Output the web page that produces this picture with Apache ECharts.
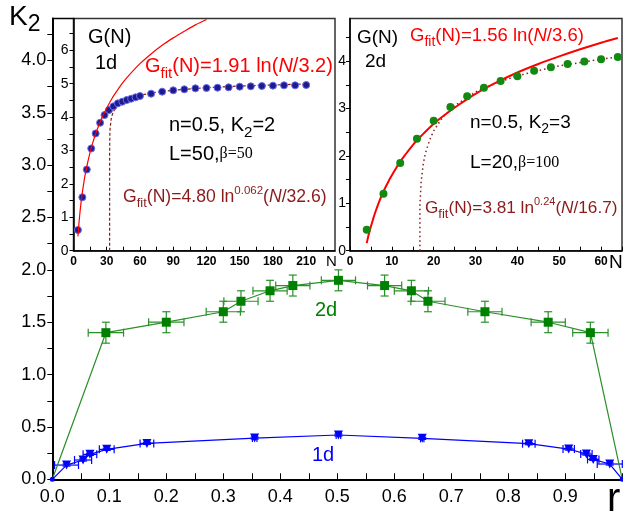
<!DOCTYPE html>
<html>
<head>
<meta charset="utf-8">
<script src="https://cdn.jsdelivr.net/npm/echarts@6/dist/echarts.min.js"></script>
<style>
  html, body { margin: 0; padding: 0; background: #fff; }
  #chart { width: 623px; height: 521px; }
</style>
</head>
<body>
<div id="chart"></div>
<script>
// ---- main panel: K2 vs r ----
const r2d    = [0, 0.094, 0.2, 0.3, 0.331, 0.382, 0.422, 0.502, 0.583, 0.63, 0.659, 0.759, 0.87, 0.944, 1.0];
const k2d    = [0, 1.4, 1.5, 1.6, 1.7, 1.8, 1.85, 1.9, 1.85, 1.8, 1.7, 1.6, 1.5, 1.4, 0];
const rErr2d = [0, 0.031, 0.031, 0.03, 0.03, 0.03, 0.03, 0.03, 0.03, 0.03, 0.03, 0.03, 0.03, 0.031, 0];
const kErr2d = [0, 0.1, 0.1, 0.1, 0.1, 0.1, 0.1, 0.1, 0.1, 0.1, 0.1, 0.1, 0.1, 0.1, 0];

const r1d    = [0, 0.025, 0.054, 0.066, 0.0955, 0.166, 0.355, 0.502, 0.649, 0.836, 0.906, 0.937, 0.949, 0.978, 1.0];
const k1d    = [0, 0.136, 0.184, 0.238, 0.286, 0.343, 0.394, 0.423, 0.391, 0.34, 0.289, 0.241, 0.19, 0.146, 0];
const rErr1d = [0, 0.021, 0.015, 0.012, 0.013, 0.012, 0.004, 0.004, 0.003, 0.011, 0.01, 0.01, 0.01, 0.022, 0];
const kErr1d = [0, 0.01, 0.01, 0.01, 0.01, 0.01, 0.01, 0.01, 0.01, 0.01, 0.01, 0.01, 0.01, 0.01, 0];

// ---- inset 1d: G(N) ----
const n1d = [4, 8, 12, 16, 20, 24, 28, 32, 36, 40, 44, 48, 52, 56, 60,
             70, 80, 90, 100, 110, 120, 130, 140, 150, 160, 170, 180, 190, 200, 210];
const g1d = [0.62, 1.6, 2.43, 3.06, 3.51, 3.83, 4.06, 4.21, 4.32, 4.41, 4.46, 4.51, 4.55, 4.59, 4.63,
             4.70, 4.76, 4.80, 4.83, 4.86, 4.87, 4.88, 4.89, 4.91, 4.92, 4.93, 4.94, 4.95, 4.95, 4.96];
// red fit curve
const fitLn1dN = [4, 4.5, 5, 5.5, 6, 7, 8, 9, 10, 11, 12, 13, 14, 15, 17, 20, 23, 26, 30, 35, 40, 45, 50, 60, 70, 80, 90, 100, 110, 120];
const fitLn1dG = [0.43, 0.65, 0.85, 1.03, 1.20, 1.50, 1.75, 1.97, 2.18, 2.36, 2.52, 2.67, 2.81, 2.95, 3.19, 3.50, 3.77, 4.00, 4.27, 4.57, 4.82, 5.05, 5.25, 5.60, 5.89, 6.15, 6.37, 6.57, 6.76, 6.92];
// dark red dashed fit
const fitPow1dN = [32.6, 32.6, 32.8, 33, 34, 35, 36, 38, 40, 42, 45, 50, 60, 70, 80, 90, 100, 120, 150, 180, 210];
const fitPow1dG = [0, 2.9, 3.5, 3.65, 3.94, 4.07, 4.16, 4.27, 4.35, 4.41, 4.47, 4.55, 4.65, 4.72, 4.77, 4.80, 4.83, 4.88, 4.93, 4.96, 4.99];

// ---- inset 2d: G(N) ----
const n2d = [4, 8, 12, 16, 20, 24, 28, 32, 36, 40, 44, 48, 52, 56, 60, 64];
const g2d = [0.44, 1.2, 1.85, 2.36, 2.74, 3.03, 3.26, 3.44, 3.58, 3.68, 3.80, 3.87, 3.94, 3.99, 4.04, 4.09];
const fitLn2dN = [4, 4.5, 5, 5.5, 6, 7, 8, 9, 10, 11, 12, 13, 15, 17, 20, 23, 26, 30, 35, 40, 45, 50, 55, 60, 64];
const fitLn2dG = [0.16, 0.35, 0.51, 0.66, 0.80, 1.04, 1.25, 1.43, 1.59, 1.74, 1.88, 2.00, 2.23, 2.42, 2.68, 2.89, 3.08, 3.31, 3.55, 3.76, 3.94, 4.10, 4.25, 4.39, 4.49];
const fitPow2dN = [16.7, 16.7, 16.8, 17, 17.5, 18, 19, 20, 22, 25, 30, 35, 40, 45, 50, 55, 60, 64];
const fitPow2dG = [0, 1.0, 1.11, 1.45, 1.83, 2.05, 2.33, 2.53, 2.80, 3.06, 3.35, 3.54, 3.69, 3.80, 3.90, 3.97, 4.04, 4.09];

// ---- ticks / labels ----
const mainXLabels = [0, 0.1, 0.2, 0.3, 0.4, 0.5, 0.6, 0.7, 0.8, 0.9];
const mainXTicks  = [0, 0.05, 0.1, 0.15, 0.2, 0.25, 0.3, 0.35, 0.4, 0.45, 0.5, 0.55, 0.6, 0.65, 0.7, 0.75, 0.8, 0.85, 0.9, 0.95, 1.0];
const mainYLabels = [0, 0.5, 1.0, 1.5, 2.0, 2.5, 3.0, 3.5, 4.0];
const mainYTicks  = [0, 0.25, 0.5, 0.75, 1.0, 1.25, 1.5, 1.75, 2.0, 2.25, 2.5, 2.75, 3.0, 3.25, 3.5, 3.75, 4.0, 4.25];
const in1XLabels = [0, 30, 60, 90, 120, 150, 180, 210];
const in1XTicks  = [0, 15, 30, 45, 60, 75, 90, 105, 120, 135, 150, 165, 180, 195, 210, 225];
const in1YLabels = [0, 1, 2, 3, 4, 5, 6];
const in1YTicks  = [0, 0.5, 1, 1.5, 2, 2.5, 3, 3.5, 4, 4.5, 5, 5.5, 6, 6.5];
const in2XLabels = [0, 10, 20, 30, 40, 50, 60];
const in2XTicks  = [0, 5, 10, 15, 20, 25, 30, 35, 40, 45, 50, 55, 60, 65];
const in2YLabels = [0, 1, 2, 3, 4];
const in2YTicks  = [0, 0.5, 1, 1.5, 2, 2.5, 3, 3.5, 4, 4.5];

const RED = '#ff0000';
const DARKRED = '#8b1a1a';
const GREEN = '#008000';
const BLUE = '#0000ff';
const SANS = '"Liberation Sans", Arial, sans-serif';
const SERIF = '"Liberation Serif", "Times New Roman", serif';
const F = (size, extra) => (extra ? extra + ' ' : '') + size + 'px ' + SANS;

const pairs = (xs, ys) => xs.map((x, i) => [x, ys[i]]);
const quads = (xs, ys, ex, ey) => xs.map((x, i) => [x, ys[i], ex[i], ey[i]]);

function errorBars(color, width) {
  return function (params, api) {
    const x = api.value(0), y = api.value(1), ex = api.value(2), ey = api.value(3);
    const c = api.coord([x, y]);
    const st = { stroke: color, lineWidth: width, fill: null };
    const kids = [];
    const seg = (x1, y1, x2, y2) => kids.push({ type: 'line', shape: { x1, y1, x2, y2 }, style: st });
    if (ex > 0) {
      const l = api.coord([x - ex, y])[0], r = api.coord([x + ex, y])[0];
      seg(l, c[1], r, c[1]);
      seg(l, c[1] - 4, l, c[1] + 4);
      seg(r, c[1] - 4, r, c[1] + 4);
    }
    if (ey > 0) {
      const b = api.coord([x, y - ey])[1], t = api.coord([x, y + ey])[1];
      seg(c[0], b, c[0], t);
      seg(c[0] - 4, b, c[0] + 4, b);
      seg(c[0] - 4, t, c[0] + 4, t);
    }
    return { type: 'group', children: kids };
  };
}

function valueAxis(idx, min, max, labels, ticks, labelOpt, tickOpt, lineW) {
  return {
    type: 'value', gridIndex: idx, min: min, max: max,
    axisLine: { show: true, onZero: false, lineStyle: { color: '#000', width: lineW } },
    axisTick: Object.assign({ show: true, customValues: ticks, lineStyle: { color: '#000', width: 1 } }, tickOpt),
    axisLabel: Object.assign({ customValues: labels, color: '#000', fontFamily: SANS }, labelOpt),
    splitLine: { show: false }
  };
}

function txt(x, y, text, size, color, rich) {
  return {
    type: 'text', x: x, y: y, z: 100,
    style: { text: text, font: F(size), fill: color || '#000', align: 'left', verticalAlign: 'middle', rich: rich || {} }
  };
}
function fitRich(size, subSize, supSize) {
  return {
    sub: { font: F(subSize), padding: [Math.round(subSize * 0.9), 0, 0, 0] },
    sup: { font: F(supSize), padding: [0, 0, Math.round(supSize * 1.1), 0] },
    it:  { font: F(size, 'italic') }
  };
}

const chart = echarts.init(document.getElementById('chart'));
chart.setOption({
  animation: false,
  backgroundColor: '#fff',
  grid: [
    { left: 52.3, right: 0.7, top: 18.5, bottom: 41.7, show: false },
    { left: 73.5, width: 261.5, top: 18.5, bottom: 270.3, show: true, backgroundColor: '#fff', borderColor: '#333', borderWidth: 1.5 },
    { left: 350, width: 272, top: 18.5, bottom: 270.3, show: true, backgroundColor: '#fff', borderColor: '#333', borderWidth: 1.5 }
  ],
  xAxis: [
    valueAxis(0, 0, 1, mainXLabels, mainXTicks,
      { fontSize: 18, margin: 9, formatter: v => v.toFixed(1) }, { inside: true, length: 6 }, 2),
    valueAxis(1, 0, 236, in1XLabels, in1XTicks,
      { fontSize: 12, fontWeight: 'bold', margin: 5 }, { inside: true, length: 4 }, 1.5),
    valueAxis(2, 0, 65, in2XLabels, in2XTicks,
      { fontSize: 12, fontWeight: 'bold', margin: 5 }, { inside: true, length: 4 }, 1.5)
  ],
  yAxis: [
    valueAxis(0, 0, 4.4, mainYLabels, mainYTicks,
      { fontSize: 18, margin: 6, formatter: v => v.toFixed(1) }, { inside: false, length: 5 }, 2),
    valueAxis(1, 0, 6.95, in1YLabels, in1YTicks,
      { fontSize: 14, margin: 5 }, { inside: false, length: 4 }, 1.5),
    valueAxis(2, 0, 4.9, in2YLabels, in2YTicks,
      { fontSize: 14, margin: 4 }, { inside: false, length: 4 }, 1.5)
  ],
  series: [
    // main 2d
    {
      type: 'custom', xAxisIndex: 0, yAxisIndex: 0, z: 2,
      renderItem: errorBars('#2a902a', 1.2),
      encode: { x: 0, y: 1 },
      data: quads(r2d, k2d, rErr2d, kErr2d)
    },
    {
      type: 'line', xAxisIndex: 0, yAxisIndex: 0, z: 3,
      data: pairs(r2d, k2d),
      symbol: 'rect',
      symbolSize: (v, p) => (p.dataIndex === 0 || p.dataIndex === r2d.length - 1) ? 0 : 9,
      itemStyle: { color: GREEN },
      lineStyle: { color: '#2a8f2a', width: 1.2 }
    },
    // main 1d
    {
      type: 'custom', xAxisIndex: 0, yAxisIndex: 0, z: 2,
      renderItem: errorBars(BLUE, 1.2),
      encode: { x: 0, y: 1 },
      data: quads(r1d, k1d, rErr1d, kErr1d)
    },
    {
      type: 'line', xAxisIndex: 0, yAxisIndex: 0, z: 3,
      data: pairs(r1d, k1d),
      symbol: (v, p) => (p.dataIndex === 0 || p.dataIndex === r1d.length - 1) ? 'circle' : 'triangle',
      symbolRotate: 180,
      symbolSize: (v, p) => (p.dataIndex === 0 || p.dataIndex === r1d.length - 1) ? 5 : 9,
      itemStyle: { color: BLUE },
      lineStyle: { color: BLUE, width: 1.2 }
    },
    // inset 1d
    {
      type: 'line', xAxisIndex: 1, yAxisIndex: 1, z: 3,
      data: pairs(fitPow1dN, fitPow1dG), showSymbol: false, symbol: 'none',
      lineStyle: { color: DARKRED, width: 1.2, type: [3, 2] }
    },
    {
      type: 'scatter', xAxisIndex: 1, yAxisIndex: 1, z: 4,
      data: pairs(n1d, g1d), symbolSize: 7,
      itemStyle: { color: '#1c1c8c', borderColor: '#6a6af0', borderWidth: 1, opacity: 1 }
    },
    {
      type: 'line', xAxisIndex: 1, yAxisIndex: 1, z: 5,
      data: pairs(fitLn1dN, fitLn1dG), showSymbol: false, symbol: 'none', smooth: 0.3,
      lineStyle: { color: RED, width: 1.2 }
    },
    // inset 2d
    {
      type: 'line', xAxisIndex: 2, yAxisIndex: 2, z: 3,
      data: pairs(fitPow2dN, fitPow2dG), showSymbol: false, symbol: 'none',
      lineStyle: { color: DARKRED, width: 1.5, type: [1.5, 3] }
    },
    {
      type: 'line', xAxisIndex: 2, yAxisIndex: 2, z: 4,
      data: pairs(fitLn2dN, fitLn2dG), showSymbol: false, symbol: 'none', smooth: 0.3,
      lineStyle: { color: RED, width: 2 }
    },
    {
      type: 'scatter', xAxisIndex: 2, yAxisIndex: 2, z: 5,
      data: pairs(n2d, g2d), symbolSize: 8,
      itemStyle: { color: '#128a12', opacity: 1 }
    }
  ],
  graphic: [
    { type: 'line', z: 100, shape: { x1: 52.3, y1: 18.5, x2: 73.5, y2: 18.5 }, style: { stroke: '#000', lineWidth: 1.5 } },
    // main labels
    txt(9, 17, 'K{s|2}', 28, '#000', { s: { font: F(23), padding: [16, 0, 0, 0] } }),
    txt(607, 500, 'r', 40),
    txt(315, 310, '2d', 20, GREEN),
    txt(312, 455, '1d', 20, BLUE),
    // inset 1d
    txt(88, 37.5, 'G(N)', 20),
    txt(95, 63.5, '1d', 20),
    txt(145, 66.5, 'G{sub|fit}(N)=1.91 ln({it|N}/3.2)', 20, RED, fitRich(20, 15, 12)),
    txt(169, 125.5, 'n=0.5, K{sub|2}=2', 20, '#000', fitRich(20, 15, 12)),
    txt(169, 154, 'L=50,{b|β=50}', 20, '#000', { b: { font: '16px ' + SERIF } }),
    txt(123, 197, 'G{sub|fit}(N)=4.80 ln{sup|0.062}({it|N}/32.6)', 17.6, DARKRED, fitRich(17.6, 13, 11.5)),
    txt(326, 262, 'N', 15),
    // inset 2d
    txt(357, 38, 'G(N)', 19),
    txt(365, 61.5, '2d', 19),
    txt(410, 36, 'G{sub|fit}(N)=1.56 ln({it|N}/3.6)', 18.5, RED, fitRich(18.5, 14, 11)),
    txt(470, 122.5, 'n=0.5, K{sub|2}=3', 19, '#000', fitRich(19, 14, 11)),
    txt(470, 162.5, 'L=20,{b|β=100}', 19, '#000', { b: { font: '16px ' + SERIF } }),
    txt(425, 208, 'G{sub|fit}(N)=3.81 ln{sup|0.24}({it|N}/16.7)', 17.2, DARKRED, fitRich(17.2, 13, 11)),
    txt(609, 263, 'N', 19)
  ]
});
</script>
</body>
</html>
